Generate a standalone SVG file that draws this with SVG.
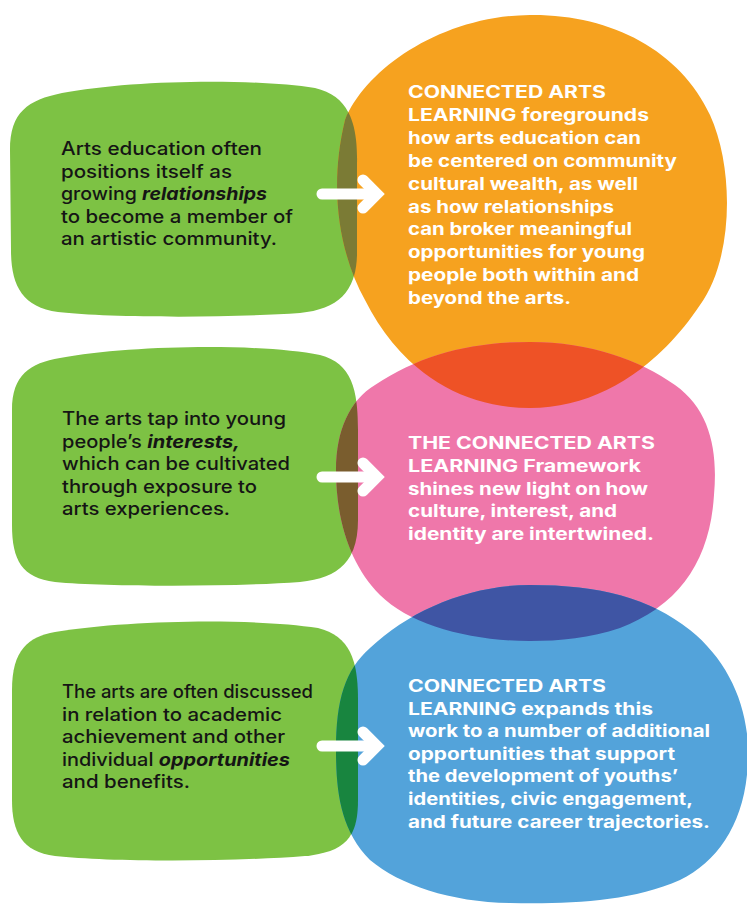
<svg xmlns="http://www.w3.org/2000/svg" xmlns:xlink="http://www.w3.org/1999/xlink" width="747" height="907" viewBox="0 0 747 907">
<style>
.green{fill:#7dc244}
.orange{fill:#f6a21f}
.pink{fill:#ef77aa}
.blue{fill:#53a3da}
.olive{fill:#7b7b35}
.red{fill:#ee5226}
.brown{fill:#7a5d2e}
.navy{fill:#3f55a4}
.dkgreen{fill:#18853f}
.dark{font-family:Inter,"Liberation Sans",Arial,sans-serif;font-size:18px;font-weight:500;fill:#151515}
.dark .em{font-weight:700;font-style:italic}
.light{font-family:Inter,"Liberation Sans",Arial,sans-serif;font-size:17px;font-weight:700;fill:#ffffff}
.conn{fill:none;stroke:#ffffff;stroke-width:11;stroke-linecap:round}
</style>
<defs>
<path id="g1p" d="M 62,93 C 130,80 250,78 315,88 C 350,96 358,125 357,165 L 357,255 C 356,292 338,309 300,313 C 230,318 110,318 58,312 C 22,307 11,285 11,250 L 10,150 C 10,112 28,100 62,93 Z"/>
<path id="g2p" d="M 60,358 C 130,345 260,343 320,355 C 352,363 358,390 358,430 L 358,520 C 358,560 340,578 300,582 C 230,587 110,587 55,582 C 22,578 12,560 12,525 L 12,410 C 12,375 30,363 60,358 Z"/>
<path id="g3p" d="M 55,632 C 130,620 250,618 318,628 C 350,636 358,660 358,700 L 358,800 C 358,838 345,852 305,856 C 230,862 110,862 55,856 C 22,852 12,832 12,800 L 12,690 C 12,650 28,637 55,632 Z"/>
<path id="orp" d="M 530,15 C 610,14 680,50 710,115 C 735,170 733,260 700,305 C 660,365 600,408 530,408 C 460,408 400,370 365,300 C 340,255 328,190 345,120 C 365,70 440,16 530,15 Z"/>
<path id="pkp" d="M 530,342 C 590,342 640,360 675,385 C 710,410 718,450 714,495 C 710,560 680,605 620,628 C 590,638 560,641 530,641 C 470,641 410,625 380,595 C 350,565 336,520 336,470 C 336,430 350,400 375,385 C 420,355 470,342 530,342 Z"/>
<path id="blp" d="M 530,585 C 600,585 650,598 690,630 C 730,662 750,710 748,760 C 746,820 720,860 680,880 C 630,902 570,904 510,903 C 450,902 400,885 370,860 C 340,830 336,790 336,750 C 336,700 345,670 370,648 C 410,610 470,585 530,585 Z"/>
<clipPath id="cOr"><use href="#orp"/></clipPath>
<clipPath id="cPk"><use href="#pkp"/></clipPath>
<clipPath id="cBl"><use href="#blp"/></clipPath>
<marker id="head" markerUnits="userSpaceOnUse" viewBox="0 0 40 50" markerWidth="40" markerHeight="50" refX="20" refY="25" orient="auto">
<polyline points="11,11 25,25 11,39" fill="none" stroke="#ffffff" stroke-width="11" stroke-linecap="round" stroke-linejoin="miter"/>
</marker>
</defs>

<g id="blobs">
<use href="#g1p" class="green"/>
<use href="#g2p" class="green"/>
<use href="#g3p" class="green"/>
<use href="#orp" class="orange"/>
<use href="#pkp" class="pink"/>
<use href="#blp" class="blue"/>
<use href="#g1p" class="olive" clip-path="url(#cOr)"/>
<use href="#g2p" class="brown" clip-path="url(#cPk)"/>
<use href="#g3p" class="dkgreen" clip-path="url(#cBl)"/>
<use href="#orp" class="red" clip-path="url(#cPk)"/>
<use href="#pkp" class="navy" clip-path="url(#cBl)"/>
</g>

<g id="node-relationships" class="dark">
<text x="61" y="155" textLength="201" lengthAdjust="spacingAndGlyphs">Arts education often</text>
<text x="61" y="177.5" textLength="171" lengthAdjust="spacingAndGlyphs">positions itself as</text>
<text x="61" y="200" textLength="206" lengthAdjust="spacingAndGlyphs">growing <tspan class="em">relationships</tspan></text>
<text x="61" y="222.5" textLength="232" lengthAdjust="spacingAndGlyphs">to become a member of</text>
<text x="61" y="245" textLength="216" lengthAdjust="spacingAndGlyphs">an artistic community.</text>
</g>

<g id="node-interests" class="dark">
<text x="62" y="425" textLength="224" lengthAdjust="spacingAndGlyphs">The arts tap into young</text>
<text x="62" y="447.5" textLength="178" lengthAdjust="spacingAndGlyphs">people’s <tspan class="em">interests,</tspan></text>
<text x="62" y="470" textLength="228" lengthAdjust="spacingAndGlyphs">which can be cultivated</text>
<text x="62" y="492.5" textLength="195" lengthAdjust="spacingAndGlyphs">through exposure to</text>
<text x="62" y="515" textLength="168" lengthAdjust="spacingAndGlyphs">arts experiences.</text>
</g>

<g id="node-opportunities" class="dark">
<text x="62" y="698" textLength="251" lengthAdjust="spacingAndGlyphs">The arts are often discussed</text>
<text x="62" y="720.5" textLength="220" lengthAdjust="spacingAndGlyphs">in relation to academic</text>
<text x="62" y="743" textLength="223" lengthAdjust="spacingAndGlyphs">achievement and other</text>
<text x="62" y="765.5" textLength="228" lengthAdjust="spacingAndGlyphs">individual <tspan class="em">opportunities</tspan></text>
<text x="62" y="788" textLength="128" lengthAdjust="spacingAndGlyphs">and benefits.</text>
</g>

<g id="node-cal-foregrounds" class="light">
<text x="408" y="98" textLength="198" lengthAdjust="spacingAndGlyphs">CONNECTED ARTS</text>
<text x="408" y="121" textLength="241" lengthAdjust="spacingAndGlyphs">LEARNING foregrounds</text>
<text x="408" y="144" textLength="233" lengthAdjust="spacingAndGlyphs">how arts education can</text>
<text x="408" y="167" textLength="269" lengthAdjust="spacingAndGlyphs">be centered on community</text>
<text x="408" y="190" textLength="230" lengthAdjust="spacingAndGlyphs">cultural wealth, as well</text>
<text x="408" y="212.5" textLength="206" lengthAdjust="spacingAndGlyphs">as how relationships</text>
<text x="408" y="235" textLength="224" lengthAdjust="spacingAndGlyphs">can broker meaningful</text>
<text x="408" y="258" textLength="237" lengthAdjust="spacingAndGlyphs">opportunities for young</text>
<text x="408" y="281" textLength="231" lengthAdjust="spacingAndGlyphs">people both within and</text>
<text x="408" y="303.5" textLength="163" lengthAdjust="spacingAndGlyphs">beyond the arts.</text>
</g>

<g id="node-cal-framework" class="light">
<text x="408" y="449" textLength="247" lengthAdjust="spacingAndGlyphs">THE CONNECTED ARTS</text>
<text x="408" y="472" textLength="233" lengthAdjust="spacingAndGlyphs">LEARNING Framework</text>
<text x="408" y="494.5" textLength="240" lengthAdjust="spacingAndGlyphs">shines new light on how</text>
<text x="408" y="517" textLength="209" lengthAdjust="spacingAndGlyphs">culture, interest, and</text>
<text x="408" y="539.5" textLength="246" lengthAdjust="spacingAndGlyphs">identity are intertwined.</text>
</g>

<g id="node-cal-expands" class="light">
<text x="408" y="692" textLength="198" lengthAdjust="spacingAndGlyphs">CONNECTED ARTS</text>
<text x="408" y="714.5" textLength="245" lengthAdjust="spacingAndGlyphs">LEARNING expands this</text>
<text x="408" y="737" textLength="302" lengthAdjust="spacingAndGlyphs">work to a number of additional</text>
<text x="408" y="759.5" textLength="267" lengthAdjust="spacingAndGlyphs">opportunities that support</text>
<text x="408" y="782" textLength="270" lengthAdjust="spacingAndGlyphs">the development of youths’</text>
<text x="408" y="805" textLength="285" lengthAdjust="spacingAndGlyphs">identities, civic engagement,</text>
<text x="408" y="828" textLength="302" lengthAdjust="spacingAndGlyphs">and future career trajectories.</text>
</g>

<g id="connectors">
<path class="conn" d="M 322,194 H 372" marker-end="url(#head)"/>
<path class="conn" d="M 322,477 H 372" marker-end="url(#head)"/>
<path class="conn" d="M 322,746 H 372" marker-end="url(#head)"/>
</g>
</svg>
